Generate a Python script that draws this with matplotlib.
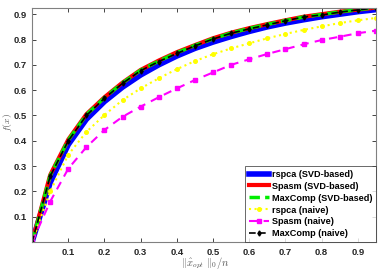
import matplotlib
matplotlib.use("Agg")
import matplotlib.pyplot as plt

x = [0, 0.05, 0.1, 0.15, 0.2, 0.25, 0.3, 0.35, 0.4, 0.45, 0.5, 0.55, 0.6, 0.65, 0.7, 0.75, 0.8, 0.85, 0.9, 0.95]
rspca_svd = [0, 0.235, 0.385, 0.485, 0.555, 0.612, 0.66, 0.70, 0.735, 0.765, 0.79, 0.812, 0.832, 0.85, 0.865, 0.878, 0.89, 0.90, 0.91, 0.918]
spasm_svd = [0, 0.265, 0.405, 0.505, 0.572, 0.63, 0.68, 0.717, 0.75, 0.778, 0.805, 0.827, 0.845, 0.861, 0.876, 0.89, 0.90, 0.91, 0.918, 0.926]
maxcomp_svd = [0, 0.263, 0.403, 0.503, 0.570, 0.629, 0.679, 0.715, 0.748, 0.777, 0.803, 0.826, 0.844, 0.860, 0.875, 0.889, 0.899, 0.909, 0.918, 0.926]
rspca_naive = [0, 0.20, 0.345, 0.435, 0.502, 0.561, 0.607, 0.647, 0.683, 0.715, 0.742, 0.765, 0.785, 0.805, 0.822, 0.838, 0.852, 0.865, 0.876, 0.885]
spasm_naive = [0, 0.16, 0.29, 0.375, 0.443, 0.495, 0.535, 0.572, 0.607, 0.64, 0.67, 0.70, 0.722, 0.743, 0.762, 0.781, 0.798, 0.811, 0.825, 0.835]
maxcomp_naive = [0, 0.26, 0.40, 0.50, 0.568, 0.627, 0.677, 0.713, 0.745, 0.775, 0.802, 0.825, 0.842, 0.858, 0.874, 0.889, 0.897, 0.908, 0.917, 0.925]

labels = ["rspca (SVD-based)", "Spasm (SVD-based)", "MaxComp (SVD-based)",
          "rspca (naive)", "Spasm (naive)", "MaxComp (naive)"]
xticks = [0.1, 0.2, 0.3, 0.4, 0.5, 0.6, 0.7, 0.8, 0.9]
yticks = [0.1, 0.2, 0.3, 0.4, 0.5, 0.6, 0.7, 0.8, 0.9]

plt.rcParams['font.family'] = ['Liberation Sans', 'DejaVu Sans']
plt.rcParams['mathtext.fontset'] = 'cm'

fig = plt.figure(figsize=(3.82, 2.72), dpi=100)
ax = fig.add_axes([0.084, 0.110, 0.900, 0.861])

ax.plot(x, rspca_svd, color='#0000ff', lw=4.0, label=labels[0])
ax.plot(x, spasm_svd, color='#ff0000', lw=3.0, label=labels[1])
ax.plot(x, maxcomp_svd, color='#00ee00', lw=2.5, ls=(0, (3, 1.5)), label=labels[2])
ax.plot(x, rspca_naive, color='#ffff00', lw=1.5, ls=':', marker='o', ms=2.6, label=labels[3])
ax.plot(x, spasm_naive, color='#ff00ff', lw=1.5, ls=(0, (4, 3)), marker='s', ms=2.5, label=labels[4])
ax.plot(x, maxcomp_naive, color='black', lw=1.2, ls=(0, (4, 2)), marker='d', ms=2.6, label=labels[5])

ax.set_xlim(0, 0.95)
ax.set_ylim(0, 0.925)
ax.set_xticks(xticks)
ax.set_yticks(yticks)
ax.set_xticklabels([f"{t:.1f}" for t in xticks])
ax.set_yticklabels([f"{t:.1f}" for t in yticks])
ax.tick_params(direction='in', length=3, width=0.6, colors='#262626', labelsize=6.8,
               top=True, right=True, pad=4)
for lbl in ax.get_xticklabels() + ax.get_yticklabels():
    lbl.set_fontweight('bold')
for s in ax.spines.values():
    s.set_color('#808080')
    s.set_linewidth(0.8)

ax.set_xlabel(r'$\|\hat{x}_{opt}\ \|_0/n$', fontsize=7.5, color='#555555')
ax.xaxis.set_label_coords(0.503, -0.058)
ax.set_ylabel(r'$f(x)$', fontsize=7, color='#555555')
ax.yaxis.set_label_coords(-0.054, 0.51)

leg = ax.legend(loc='lower right', borderaxespad=0, handlelength=2.2,
                handletextpad=0.3, labelspacing=0.32, borderpad=0.4, fancybox=False,
                prop={'weight': 'bold', 'size': 6.6})
leg.get_frame().set_edgecolor('#262626')
leg.get_frame().set_linewidth(0.6)

fig.savefig('out.png', dpi=100)
